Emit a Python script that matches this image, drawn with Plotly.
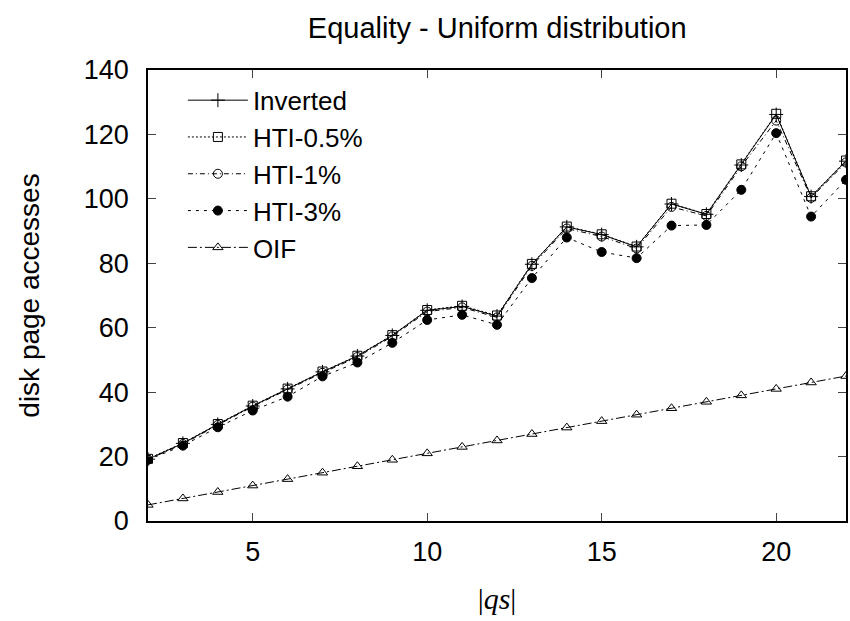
import plotly.graph_objects as go

qs = list(range(2, 23))
inverted = [19.2, 24.1, 30.0, 35.7, 41.0, 46.3, 51.2, 57.6, 65.4, 66.6, 63.6,
            79.7, 91.3, 88.9, 85.1, 98.4, 95.2, 110.5, 126.2, 100.7, 111.7]
hti_05 = [19.3, 24.2, 30.1, 35.8, 41.1, 46.4, 51.3, 57.7, 65.5, 66.8, 63.8,
          79.8, 91.4, 89.0, 85.2, 98.5, 95.3, 110.7, 126.4, 100.8, 111.9]
hti_1 = [19.1, 23.9, 29.8, 35.5, 40.8, 46.0, 50.9, 57.3, 65.0, 66.3, 63.2,
         79.2, 90.8, 88.3, 84.6, 97.5, 94.7, 110.1, 124.3, 100.3, 111.3]
hti_3 = [19.0, 23.4, 29.1, 34.3, 38.6, 44.9, 49.2, 55.3, 62.4, 64.0, 60.9,
         75.4, 88.0, 83.5, 81.6, 91.7, 91.9, 102.8, 120.4, 94.5, 105.9]
oif = [5, 7, 9, 11, 13, 15, 17, 19, 21, 23, 25, 27, 29, 31, 33, 35, 37, 39, 41, 43, 45]

series = [
    ("Inverted", inverted, "solid", "cross-thin-open", 10),
    ("HTI-0.5%", hti_05, "2px,2px", "square-open", 9),
    ("HTI-1%", hti_1, "5px,3px,1px,3px", "circle-open", 9),
    ("HTI-3%", hti_3, "3px,5px", "circle", 9),
    ("OIF", oif, "9px,3px,2px,3px", "triangle-up-open", 9),
]

FONT = "Liberation Sans, Arial, Helvetica, sans-serif"

fig = go.Figure()
for name, ys, dash, sym, sz in series:
    fig.add_trace(go.Scatter(
        x=qs, y=ys, name=name, mode="lines+markers",
        line=dict(color="black", width=1, dash=dash),
        marker=dict(symbol=sym, size=sz, color="black",
                    line=dict(color="black", width=1)),
    ))

fig.update_layout(
    width=850, height=621,
    paper_bgcolor="white", plot_bgcolor="white",
    margin=dict(l=148, r=2, t=70, b=100),
    font=dict(family=FONT, size=27, color="black"),
    title=dict(text="Equality - Uniform distribution", x=0.585, xanchor="center",
               y=0.955, yanchor="middle", font=dict(size=29, family=FONT)),
    showlegend=True,
    legend=dict(x=0.05, y=0.985, xanchor="left", yanchor="top",
                bgcolor="rgba(0,0,0,0)", font=dict(size=26, family=FONT),
                itemwidth=60, tracegroupgap=0),
)
fig.update_xaxes(
    range=[2, 22], tickvals=[5, 10, 15, 20], ticks="inside", ticklen=8,
    showline=True, linecolor="black", linewidth=1.5, mirror="ticks",
    showgrid=False, zeroline=False, tickfont=dict(size=27),
    ticklabelstandoff=6,
    title=dict(text="|<i>qs</i>|", font=dict(family="Liberation Serif, Times New Roman, serif", size=30),
               standoff=22),
)
fig.update_yaxes(
    range=[0, 140], tickvals=list(range(0, 141, 20)), ticks="inside", ticklen=8,
    showline=True, linecolor="black", linewidth=1.5, mirror="ticks",
    showgrid=False, zeroline=False, tickfont=dict(size=27),
    ticklabelstandoff=12,
    title=dict(text="disk page accesses", font=dict(size=28), standoff=36),
)

fig.write_html("out.html")
